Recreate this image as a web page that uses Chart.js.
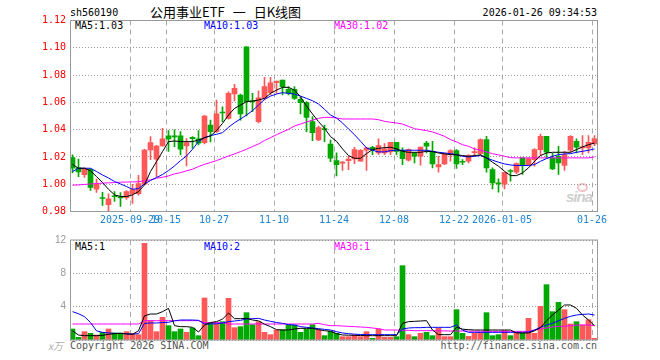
<!DOCTYPE html>
<html lang="zh-CN">
<head>
<meta charset="UTF-8"/>
<title>公用事业ETF 日K线图</title>
<script src="https://cdn.jsdelivr.net/npm/chart.js@4"></script>
<style>
  * { margin: 0; padding: 0; box-sizing: border-box; }
  body { width: 660px; height: 360px; background: #fff; position: relative; overflow: hidden;
         font-family: 'DejaVu Sans Mono', monospace; font-size: 10px; color: #000; }
  canvas { position: absolute; left: 0; }
  #kline { top: 0; }
  #vol   { top: 230px; }
  .t { position: absolute; white-space: nowrap; line-height: 12px; }
  .title { font-family: 'Noto Sans CJK SC', sans-serif; font-size: 13px; line-height: 16px; }
  .title span { margin: 0 8px; }
  .r { text-align: right; }
  .blue { color: #0000ff; }
  .pink { color: #ff00ff; }
  .grey { color: #555; }
  .unit { color: #aaa; font-family: 'Noto Sans CJK SC', sans-serif; font-style: italic; }
  .sina { position: absolute; left: 566px; top: 188px; font: italic bold 15px 'Liberation Sans', sans-serif; color: #cfcfcf; letter-spacing: -1px; }
  .eye  { position: absolute; left: 577px; top: 183px; width: 11px; height: 9px; border: 2px solid #f2c4c4; border-radius: 50%; }
</style>
</head>
<body>

<div class="t" style="left:70px; top:7px">sh560190</div>
<div class="t title" style="left:150px; top:4px">公用事业ETF<span>一</span>日K线图</div>
<div class="t r" style="right:63px; top:7px">2026-01-26 09:34:53</div>

<div class="t" style="left:75px; top:20px">MA5:1.03</div>
<div class="t blue" style="left:204px; top:20px">MA10:1.03</div>
<div class="t pink" style="left:334px; top:20px">MA30:1.02</div>

<div class="eye"></div>
<div class="sina">sina</div>

<div class="t" style="left:75px; top:241px">MA5:1</div>
<div class="t blue" style="left:204px; top:241px">MA10:2</div>
<div class="t pink" style="left:334px; top:241px">MA30:1</div>

<div class="t unit" style="left:48px; top:340px">x万</div>
<div class="t grey" style="left:70px; top:340px">Copyright 2026 SINA.COM</div>
<div class="t grey r" style="right:63px; top:340px">http://finance.sina.com.cn</div>

<canvas id="kline" width="660" height="230"></canvas>
<canvas id="vol" width="660" height="120"></canvas>

<script>
// x axis: one 6px slot per trading day, 88 days (2025-09-15 .. 2026-01-26)
const tickIdx  = [10, 16, 24, 34, 44, 54, 64, 72, 87];
const tickText = ['2025-09-29', '10-15', '10-27', '11-10', '11-24', '12-08', '12-22', '2026-01-05', '01-26'];
const priceTicks = [0.98, 1.00, 1.02, 1.04, 1.06, 1.08, 1.10, 1.12];
const volTicks   = [0, 4, 8, 12];

const opens = [
  1.0195, 1.012, 1.007, 1.011, 0.9963, 0.990, 0.985, 0.9912, 0.9905, 0.9902,
  0.993, 0.993, 1.000, 1.0251, 1.0183, 1.028, 1.0354, 1.0351, 1.0354, 1.028,
  1.0344, 1.0332, 1.0305, 1.0434, 1.0385, 1.0526, 1.0483, 1.0661, 1.0654, 1.1007,
  1.0607, 1.0459, 1.063, 1.0671, 1.0744, 1.0763, 1.0695, 1.0695, 1.0622, 1.0598,
  1.0459, 1.0324, 1.0404, 1.0295, 1.0173, 1.0154, 1.0173, 1.0185, 1.0168, 1.0249,
  1.0271, 1.0229, 1.0229, 1.0237, 1.0307, 1.0249, 1.0176, 1.0229, 1.0205, 1.0302,
  1.0241, 1.0127, 1.0149, 1.0224, 1.0246, 1.0166, 1.0168, 1.0232, 1.0224, 1.0327,
  1.0107, 1.0005, 1.000, 1.0095, 1.0088, 1.0193, 1.0144, 1.018, 1.0254, 1.0351,
  1.0193, 1.0205, 1.0137, 1.0249, 1.0315, 1.0266, 1.0266, 1.0295
];
const closes = [
  1.0117, 1.009, 1.011, 0.9976, 1.000, 0.9895, 0.9893, 0.9908, 0.990, 0.9946,
  0.996, 1.0005, 1.025, 1.0305, 1.028, 1.0332, 1.0332, 1.0347, 1.0256, 1.0305,
  1.0334, 1.030, 1.050, 1.0385, 1.0515, 1.0522, 1.0666, 1.0702, 1.0515, 1.0605,
  1.0603, 1.0634, 1.0715, 1.0744, 1.0756, 1.0715, 1.0666, 1.0629, 1.0598, 1.049,
  1.0378, 1.0415, 1.040, 1.019, 1.0144, 1.0159, 1.0185, 1.0254, 1.0249, 1.0266,
  1.0254, 1.0283, 1.0259, 1.0307, 1.0241, 1.0188, 1.0254, 1.0205, 1.0273, 1.0278,
  1.0149, 1.0144, 1.0222, 1.0246, 1.0149, 1.0161, 1.021, 1.0234, 1.0327, 1.012,
  1.001, 1.0002, 1.0088, 1.0093, 1.0151, 1.0139, 1.0188, 1.0254, 1.0351, 1.0234,
  1.0112, 1.0156, 1.0217, 1.0351, 1.0271, 1.0273, 1.0307, 1.0332
];
const highs = [
  1.0215, 1.0185, 1.012, 1.0115, 1.0037, 0.994, 0.993, 0.9946, 0.9939, 0.9954,
  1.000, 1.0065, 1.0255, 1.035, 1.0285, 1.041, 1.0393, 1.0398, 1.0385, 1.0334,
  1.0349, 1.0393, 1.0505, 1.047, 1.0617, 1.0568, 1.0678, 1.0732, 1.066, 1.1007,
  1.0666, 1.0685, 1.0783, 1.0783, 1.0756, 1.0763, 1.0715, 1.0715, 1.0637, 1.0605,
  1.0495, 1.0427, 1.0434, 1.0324, 1.023, 1.0168, 1.0205, 1.0271, 1.0254, 1.0271,
  1.0278, 1.0332, 1.0298, 1.0307, 1.0307, 1.0266, 1.0259, 1.0234, 1.0273, 1.0315,
  1.0315, 1.0205, 1.0229, 1.0254, 1.0254, 1.018, 1.0217, 1.0266, 1.0332, 1.0351,
  1.012, 1.004, 1.0088, 1.0107, 1.0156, 1.0193, 1.0193, 1.0261, 1.0368, 1.0351,
  1.0229, 1.0278, 1.0241, 1.0356, 1.0332, 1.0356, 1.0356, 1.0356
];
const lows = [
  1.0083, 1.0055, 1.005, 0.9954, 0.9939, 0.9845, 0.9805, 0.9873, 0.9837, 0.9888,
  0.986, 0.992, 0.9995, 1.018, 1.0056, 1.0278, 1.024, 1.0276, 1.0215, 1.0134,
  1.0263, 1.0288, 1.0295, 1.031, 1.038, 1.0459, 1.0476, 1.061, 1.047, 1.050,
  1.0532, 1.045, 1.0617, 1.0654, 1.0666, 1.0654, 1.0654, 1.0622, 1.0515, 1.0385,
  1.032, 1.032, 1.0312, 1.0166, 1.006, 1.0102, 1.0107, 1.0151, 1.0168, 1.0102,
  1.0217, 1.0217, 1.0217, 1.0217, 1.0217, 1.0144, 1.0168, 1.0156, 1.0139, 1.0229,
  1.012, 1.0088, 1.0144, 1.0168, 1.0115, 1.0144, 1.0156, 1.0205, 1.0217, 1.0088,
  0.9966, 0.9942, 0.9966, 1.0022, 1.0078, 1.0071, 1.0139, 1.0132, 1.021, 1.0193,
  1.0107, 1.0071, 1.0102, 1.0234, 1.0229, 1.0217, 1.0229, 1.0283
];
const ma5 = [
  1.0145, 1.0117, 1.0117, 1.0098, 1.0056, 1.0012, 0.9963, 0.9922, 0.991, 0.991,
  0.9922, 0.9946, 0.9995, 1.0093, 1.0166, 1.0239, 1.0312, 1.0317, 1.0312, 1.0312,
  1.0312, 1.0324, 1.0341, 1.0354, 1.0393, 1.0446, 1.0507, 1.0556, 1.058, 1.0605,
  1.061, 1.0617, 1.0629, 1.0666, 1.069, 1.071, 1.071, 1.069, 1.0641, 1.0573,
  1.0515, 1.0459, 1.041, 1.0349, 1.0315, 1.0259, 1.021, 1.019, 1.019, 1.0224,
  1.0254, 1.0263, 1.0268, 1.0271, 1.0259, 1.0241, 1.0234, 1.0234, 1.0234, 1.0241,
  1.0239, 1.0229, 1.0222, 1.0217, 1.0215, 1.021, 1.0205, 1.021, 1.0215, 1.0193,
  1.0161, 1.0132, 1.0095, 1.0063, 1.0063, 1.0083, 1.012, 1.0168, 1.021, 1.0229,
  1.0234, 1.0234, 1.0234, 1.0234, 1.0254, 1.0273, 1.029, 1.0302
];
const ma10 = [
  1.0093, 1.0117, 1.0117, 1.0117, 1.0093, 1.0068, 1.0046, 1.002, 1.0002, 0.9983,
  0.9963, 0.9968, 1.0002, 1.0027, 1.0049, 1.0071, 1.01, 1.0134, 1.0173, 1.0207,
  1.0256, 1.0312, 1.0341, 1.0356, 1.0366, 1.0378, 1.0417, 1.0451, 1.0478, 1.0507,
  1.0539, 1.058, 1.0622, 1.0646, 1.0661, 1.0671, 1.0666, 1.0661, 1.0646, 1.0629,
  1.0612, 1.0588, 1.0549, 1.0507, 1.0485, 1.0449, 1.0405, 1.0363, 1.0315, 1.0266,
  1.0249, 1.0237, 1.0237, 1.0246, 1.0249, 1.0249, 1.0249, 1.0249, 1.0249, 1.0249,
  1.0241, 1.0234, 1.0229, 1.0224, 1.0217, 1.0205, 1.02, 1.0205, 1.021, 1.0193,
  1.0176, 1.0161, 1.0149, 1.0141, 1.0137, 1.0137, 1.0137, 1.0144, 1.0168, 1.0188,
  1.0205, 1.0217, 1.0222, 1.0224, 1.0234, 1.0241, 1.0249, 1.0259
];
const ma30 = [
  0.9993, 0.9995, 0.9998, 1.0002, 1.0005, 1.0008, 1.001, 1.0012, 1.0015, 1.0016,
  1.0017, 1.0018, 1.0025, 1.0032, 1.0044, 1.0051, 1.0061, 1.0076, 1.0085, 1.0098,
  1.011, 1.0129, 1.0146, 1.0159, 1.0173, 1.019, 1.0207, 1.0222, 1.0239, 1.0256,
  1.0276, 1.0295, 1.032, 1.0341, 1.0363, 1.0383, 1.0402, 1.0427, 1.0441, 1.0456,
  1.047, 1.0483, 1.049, 1.049, 1.0485, 1.0478, 1.0478, 1.0478, 1.0478, 1.0478,
  1.0478, 1.0473, 1.0461, 1.0454, 1.0449, 1.0441, 1.0424, 1.0407, 1.04, 1.0393,
  1.0383, 1.0368, 1.0351, 1.0327, 1.031, 1.029, 1.0278, 1.0259, 1.0249, 1.0237,
  1.0224, 1.0215, 1.0205, 1.0195, 1.0193, 1.0193, 1.0193, 1.0193, 1.0193, 1.0193,
  1.0193, 1.0193, 1.0193, 1.0193, 1.0193, 1.0193, 1.0193, 1.02
];

// volume, 万
const vols = [
  1.32, 0.32, 1.0, 0.8, 0.6, 0.92, 1.32, 0.84, 0.84, 1.0,
  0.8, 0.64, 11.6, 2.32, 1.0, 2.72, 1.72, 1.0, 1.32, 0.92,
  1.44, 0.52, 5.04, 2.04, 2.04, 2.2, 5.0, 1.48, 1.6, 3.28,
  1.84, 2.2, 0.92, 0.64, 1.2, 1.24, 1.8, 1.8, 0.92, 1.32,
  1.84, 1.2, 0.52, 1.06, 0.8, 0.4, 0.4, 0.6, 0.4, 1.0,
  0.2, 1.32, 0.32, 0.32, 0.4, 8.92, 0.64, 0.4, 0.8, 0.92,
  0.52, 1.4, 0.4, 0.4, 3.64, 0.8, 0.44, 0.8, 0.92, 3.28,
  0.52, 0.64, 1.12, 0.52, 0.92, 0.8, 2.6, 0.8, 4.04, 6.64,
  3.4, 4.52, 3.64, 1.92, 2.2, 1.8, 2.44, 0.2
];
const vma5 = [
  1.1, 0.6, 0.52, 0.52, 0.52, 0.56, 0.68, 0.76, 0.8, 0.72,
  0.68, 1.1, 2.9, 3.12, 3.12, 3.4, 3.8, 1.72, 1.6, 1.6,
  1.52, 0.96, 1.8, 2.1, 2.2, 2.5, 3.24, 2.56, 2.56, 2.6,
  2.4, 2.3, 1.9, 1.6, 1.24, 1.2, 1.2, 1.32, 1.4, 1.4,
  1.4, 1.24, 1.12, 1.04, 0.76, 0.6, 0.58, 0.56, 0.54, 0.52,
  0.52, 0.52, 0.52, 0.52, 0.52, 2.0, 2.2, 2.24, 2.28, 2.32,
  1.2, 0.64, 0.64, 0.64, 1.52, 1.3, 1.24, 1.2, 1.2, 1.2,
  1.2, 1.2, 1.2, 1.2, 0.84, 0.84, 0.84, 1.1, 1.5, 2.3,
  3.0, 3.6, 4.2, 4.2, 3.8, 3.0, 2.4, 1.72
];
const vma10 = [
  3.4, 3.15, 2.8, 2.1, 1.1, 0.92, 0.85, 0.8, 0.78, 0.75,
  0.72, 0.76, 2.0, 2.04, 2.04, 2.1, 2.12, 2.3, 2.4, 2.4,
  2.4, 2.36, 1.92, 1.92, 1.95, 2.04, 2.2, 2.28, 2.36, 2.52,
  2.56, 2.6, 2.4, 2.24, 2.1, 2.0, 1.85, 1.8, 1.6, 1.52,
  1.44, 1.36, 1.28, 1.2, 1.0, 0.84, 0.76, 0.7, 0.66, 0.64,
  0.64, 0.64, 0.64, 0.64, 0.64, 1.32, 1.44, 1.48, 1.48, 1.52,
  1.52, 1.52, 1.52, 1.52, 1.8, 1.2, 0.92, 0.92, 0.92, 0.92,
  0.92, 0.92, 0.92, 0.92, 0.92, 0.92, 0.95, 1.2, 1.52, 1.8,
  2.0, 2.3, 2.6, 2.84, 3.0, 3.08, 3.12, 3.0
];
const vma30 = [
  1.92, 1.92, 1.92, 1.92, 1.92, 1.92, 1.92, 1.92, 1.92, 1.92,
  1.92, 1.92, 2.32, 2.32, 2.32, 2.32, 2.32, 2.32, 2.32, 2.32,
  2.32, 2.32, 2.08, 2.08, 2.08, 2.08, 1.92, 1.92, 1.92, 1.92,
  1.92, 1.92, 1.92, 1.92, 1.92, 1.92, 1.92, 1.92, 1.92, 1.92,
  1.92, 2.0, 1.84, 1.72, 1.72, 1.68, 1.64, 1.6, 1.56, 1.52,
  1.44, 1.36, 1.2, 1.2, 1.2, 1.16, 1.16, 1.12, 1.12, 1.12,
  1.12, 1.1, 1.1, 1.08, 1.08, 1.08, 1.06, 1.06, 1.06, 1.04,
  1.04, 1.04, 1.04, 1.04, 1.04, 1.04, 1.04, 1.2, 1.32, 1.44,
  1.56, 1.64, 1.64, 1.72, 1.8, 1.8, 1.8, 1.72
];

const UP = '#ff5858', DOWN = '#00a800';
const MONO = 'DejaVu Sans Mono';
const up = closes.map((c, i) => c >= opens[i]);
const candleColor = up.map(u => u ? UP : DOWN);
const xc = i => i + 5 / 12;   // candle centre inside its slot (pixel aligned)

const frame = {
  id: 'frame',
  afterDraw(chart) {
    const { ctx, chartArea: a } = chart;
    ctx.save();
    ctx.strokeStyle = '#999';
    ctx.lineWidth = 1;
    ctx.strokeRect(a.left + 0.5, a.top, a.right - a.left - 1, a.bottom - a.top);
    ctx.restore();
  }
};

// nudge layout padding until the plot area sits on the target box
function fitArea(chart, box) {
  for (let k = 0; k < 3; k++) {
    const a = chart.chartArea, p = chart.options.layout.padding;
    p.left   += box.left - a.left;
    p.right  += a.right - box.right;
    p.top    += box.top - a.top;
    p.bottom += a.bottom - box.bottom;
    chart.update('none');
  }
}

const line = (data, color) => ({
  type: 'line',
  data: data.map((v, i) => ({ x: xc(i), y: v })),
  borderColor: color, borderWidth: 1, pointRadius: 0, tension: 0, order: 0
});

const xAxis = showLabels => ({
  type: 'linear', min: 0, max: 88, offset: false,
  afterBuildTicks: s => { s.ticks = tickIdx.map(v => ({ value: v })); },
  ticks: {
    display: showLabels, autoSkip: false, maxRotation: 0, minRotation: 0, padding: 3,
    color: '#2185d0', font: { family: MONO, size: 10 },
    callback: (v, i) => tickText[i]
  },
  grid: { color: '#aaa', drawTicks: false, offset: false },
  border: { display: false, dash: [5, 4] }
});

const common = {
  responsive: false, animation: false, events: [],
  plugins: { legend: { display: false }, tooltip: { enabled: false } }
};

const kline = new Chart(document.getElementById('kline'), {
  type: 'bar',
  data: {
    datasets: [
      line(ma5, '#000000'),
      line(ma10, '#0000ff'),
      line(ma30, '#ff00ff'),
      {
        data: lows.map((l, i) => ({ x: xc(i), y: [l, highs[i]] })),
        backgroundColor: candleColor, barThickness: 1, grouped: false, order: 2
      },
      {
        data: opens.map((o, i) => ({ x: xc(i), y: [Math.min(o, closes[i]), Math.max(o, closes[i])] })),
        backgroundColor: candleColor, barThickness: 5, minBarLength: 1, grouped: false, order: 1
      }
    ]
  },
  options: {
    ...common,
    layout: { padding: { left: 0, right: 62, top: 14, bottom: 0 } },
    scales: {
      x: xAxis(true),
      y: {
        min: 0.98, max: 1.12,
        afterBuildTicks: s => { s.ticks = priceTicks.map(v => ({ value: v })); },
        afterFit: s => { s.width = 70; },
        ticks: { color: '#ff0000', padding: 4, font: { family: MONO, size: 10 }, callback: v => v.toFixed(2) },
        grid: { color: '#999', drawTicks: false },
        border: { display: false, dash: [1, 2] }
      }
    }
  },
  plugins: [frame]
});
fitArea(kline, { left: 70, right: 598, top: 20.5, bottom: 211.5 });

const vol = new Chart(document.getElementById('vol'), {
  type: 'bar',
  data: {
    datasets: [
      line(vma5, '#000000'),
      line(vma10, '#0000ff'),
      line(vma30, '#ff00ff'),
      {
        data: vols.map((v, i) => ({ x: xc(i), y: v })),
        backgroundColor: candleColor, barThickness: 5, grouped: false, order: 1
      }
    ]
  },
  options: {
    ...common,
    layout: { padding: { left: 0, right: 62, top: 4, bottom: 9 } },
    scales: {
      x: xAxis(false),
      y: {
        min: 0, max: 12,
        afterBuildTicks: s => { s.ticks = volTicks.map(v => ({ value: v })); },
        afterFit: s => { s.width = 70; },
        ticks: { color: '#999', padding: 4, font: { family: 'Liberation Sans', size: 10 }, callback: v => v === 0 ? '' : v },
        grid: { color: '#999', drawTicks: false },
        border: { display: false, dash: [1, 2] }
      }
    }
  },
  plugins: [frame]
});
fitArea(vol, { left: 70, right: 598, top: 10.5, bottom: 110.5 });
</script>

</body>
</html>
